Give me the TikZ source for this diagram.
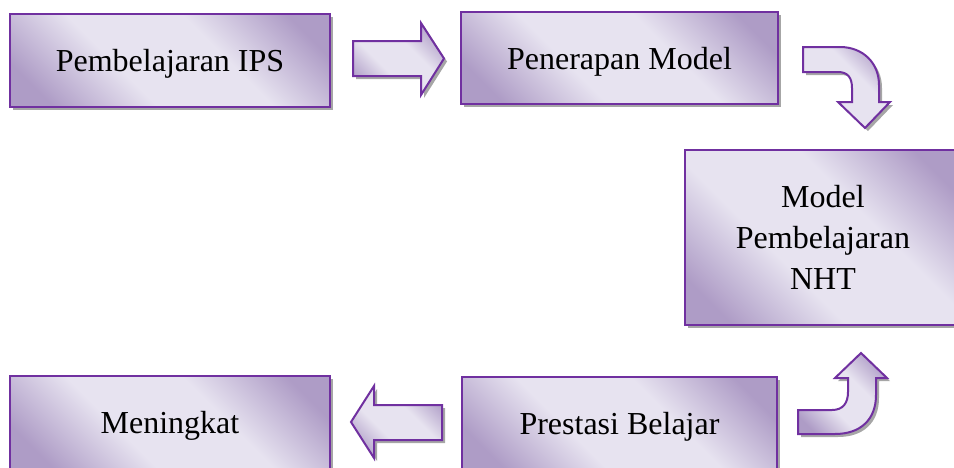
\documentclass[tikz,border=0pt]{standalone}
\usepackage{fontspec}
\setmainfont{Liberation Serif}
\usetikzlibrary{shadows,calc}

\definecolor{ungu}{HTML}{7030A0}
\definecolor{lavterang}{HTML}{E7E3F0}
\definecolor{lavgelap}{HTML}{AE9CC6}

\pgfdeclareverticalshading{lavender}{100bp}{
  color(0bp)=(lavgelap); color(22bp)=(lavgelap);
  color(40bp)=(lavterang); color(60bp)=(lavterang);
  color(78bp)=(lavgelap); color(100bp)=(lavgelap)}

\tikzset{
  isian/.style={shade, shading=lavender, shading angle=-45},
  bayang/.style={drop shadow={shadow xshift=1.5pt, shadow yshift=-1.5pt, fill=gray!70, opacity=1}},
  kotak/.style={draw=ungu, line width=1pt, isian, bayang, align=center, text depth=0pt,
    font=\fontsize{16}{20.5}\selectfont},
  panah/.style={draw=ungu, line width=1pt, line join=miter, isian, bayang},
}

\begin{document}
\begin{tikzpicture}[x=0.5pt,y=-0.5pt]
    \useasboundingbox (0,0) rectangle (954,467);
    \clip (0,0) rectangle (954,467);

    % Kotak
    \node[kotak, minimum width=160pt, minimum height=46.5pt] (ips) at (170,60.5) {Pembelajaran IPS};
    \node[kotak, minimum width=158.5pt, minimum height=46pt] (terap) at (619.5,58) {Penerapan Model};
    \node[kotak, minimum width=138pt, minimum height=87.5pt, text depth=-3.5pt] (nht) at (823,237.5) {Model\\Pembelajaran\\NHT};
    \node[kotak, minimum width=157.5pt, minimum height=46.5pt] (prestasi) at (619.5,423.5) {Prestasi Belajar};
    \node[kotak, minimum width=160pt, minimum height=46.5pt] (tingkat) at (170,422.5) {Meningkat};

    % Panah lurus
    \draw[panah] (353,41) -- (421,41) -- (421,23) -- (444,58.5) -- (421,95) -- (421,76) -- (353,76) -- cycle;
    \draw[panah] (442,405) -- (374,405) -- (374,386) -- (351,422) -- (374,458) -- (374,440) -- (442,440) -- cycle;

    % Panah lengkung
    \draw[panah] (803,47) -- (840,47) .. controls (863,47) and (879,63) .. (879,85)
        -- (879,102) -- (890,102) -- (865,128) -- (838,102) -- (852,102) -- (852,88)
        .. controls (852,78) and (848,72) .. (838,72) -- (803,72) -- cycle;
    \draw[panah] (798,410) -- (832,410) .. controls (843,410) and (848,403) .. (848,392)
        -- (848,378) -- (835,378) -- (861,353) -- (887,378) -- (876,378) -- (876,395)
        .. controls (876,420) and (860,434) .. (835,434) -- (798,434) -- cycle;
\end{tikzpicture}
\end{document}
